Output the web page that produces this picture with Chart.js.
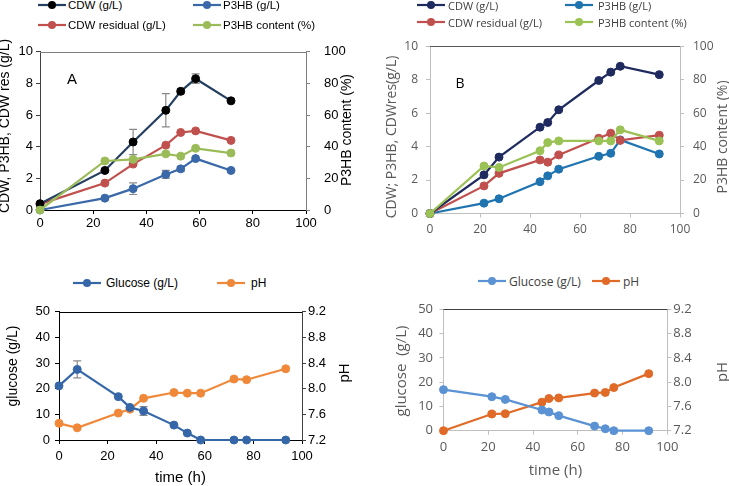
<!DOCTYPE html>
<html><head><meta charset="utf-8">
<script src="https://cdn.jsdelivr.net/npm/chart.js@4.4.0/dist/chart.umd.min.js"></script>
<style>
html,body{margin:0;padding:0;background:#fff;width:729px;height:486px;overflow:hidden;position:relative;}
canvas{position:absolute;}
.leg{position:absolute;white-space:nowrap;}
.lab{position:absolute;white-space:nowrap;}
</style></head><body>
<canvas id="cA"></canvas><canvas id="cB"></canvas><canvas id="cC"></canvas><canvas id="cD"></canvas>
<script>
// ---------- DATA ----------
const xTicks = [0, 20, 40, 60, 80, 100];
// Panel A (top left)
const timeA = [0, 24.4, 35, 47.3, 52.9, 58.5, 71.8];
const cdwA = [0.4, 2.5, 4.3, 6.3, 7.5, 8.3, 6.9];
const cdwErrA = [0, 0, 0.8, 1.05, 0.15, 0.3, 0];
const cdwResA = [0.37, 1.7, 2.9, 4.1, 4.9, 5.0, 4.4];
const p3hbA = [0, 0.75, 1.35, 2.25, 2.6, 3.25, 2.5];
const p3hbErrA = [0, 0, 0.37, 0.25, 0.15, 0, 0];
const contentA = [0, 31, 32, 35.5, 34, 39, 36];
// Panel B (top right)
const timeB = [0, 21.6, 27.6, 44, 47.1, 51.5, 67.5, 72.3, 76.1, 91.7];
const cdwB = [0, 2.31, 3.37, 5.16, 5.44, 6.2, 7.95, 8.45, 8.8, 8.3];
const cdwResB = [0, 1.65, 2.4, 3.2, 3.07, 3.5, 4.5, 4.8, 4.37, 4.68];
const p3hbB = [0, 0.62, 0.88, 1.9, 2.25, 2.65, 3.42, 3.6, 4.4, 3.56];
const contentB = [0, 28.4, 27.5, 37.5, 42.4, 43.4, 43.4, 43.4, 50, 43.4];
// Panel C (bottom left)
const timeC = [0, 7.5, 24.4, 29.2, 34.8, 47.3, 52.8, 58.3, 72, 77.2, 93.3];
const glucoseC = [21.1, 27.5, 16.9, 12.7, 11.3, 5.8, 2.7, 0, 0, 0, 0];
const glucoseErrC = [0, 3.3, 0, 0, 1.7, 0, 0, 0, 0, 0, 0];
const phC = [7.46, 7.39, 7.62, 7.68, 7.85, 7.94, 7.93, 7.93, 8.15, 8.14, 8.31];
// Panel D (bottom right)
const timeD = [0, 21.6, 27.6, 44, 47.1, 51.5, 67.5, 72.3, 76.1, 91.7];
const glucoseD = [16.9, 14, 12.9, 8.5, 7.7, 6.2, 1.9, 0.8, 0, 0];
const phD = [7.2, 7.475, 7.48, 7.67, 7.73, 7.74, 7.82, 7.83, 7.91, 8.14];
// Labels
const namesTop = ['CDW (g/L)', 'P3HB (g/L)', 'CDW residual (g/L)', 'P3HB content (%)'];
const namesBottom = ['Glucose (g/L)', 'pH'];

// ---------- HELPERS ----------
const pts = (xs, ys) => xs.map((x, i) => ({x: x, y: ys[i]}));

const topBorder = {
  id: 'topBorder',
  afterDraw(chart, args, opts) {
    const {ctx, chartArea: a} = chart;
    ctx.save(); ctx.strokeStyle = opts.color; ctx.lineWidth = 1;
    ctx.beginPath(); ctx.moveTo(a.left, Math.round(a.top) + 0.5); ctx.lineTo(a.right, Math.round(a.top) + 0.5); ctx.stroke();
    ctx.restore();
  }
};
// vertical axis titles, both read bottom-to-top as in the reference
const sideTitles = {
  id: 'sideTitles',
  afterDraw(chart, args, opts) {
    const ctx = chart.ctx;
    (opts.items || []).forEach(t => {
      ctx.save();
      ctx.translate(t.x, t.y); ctx.rotate(-Math.PI / 2);
      ctx.font = t.font; ctx.fillStyle = t.color;
      ctx.textAlign = 'center'; ctx.textBaseline = 'middle';
      ctx.fillText(t.text, 0, 0);
      ctx.restore();
    });
  }
};
const errorBars = {
  id: 'errorBars',
  beforeDatasetsDraw(chart) {
    const ctx = chart.ctx;
    chart.data.datasets.forEach((ds) => {
      if (!ds.errors) return;
      const xs = chart.scales.x, ys = chart.scales[ds.yAxisID];
      ctx.save(); ctx.strokeStyle = '#8a8a8a'; ctx.lineWidth = 1.2;
      ds.data.forEach((p, i) => {
        const e = ds.errors[i]; if (!e) return;
        const px = xs.getPixelForValue(p.x), y1 = ys.getPixelForValue(p.y + e), y2 = ys.getPixelForValue(p.y - e);
        ctx.beginPath();
        ctx.moveTo(px, y1); ctx.lineTo(px, y2);
        ctx.moveTo(px - 4, y1); ctx.lineTo(px + 4, y1);
        ctx.moveTo(px - 4, y2); ctx.lineTo(px + 4, y2);
        ctx.stroke();
      });
      ctx.restore();
    });
  }
};

function ds(data, line, fill, axis, errors) {
  return {data: data, borderColor: line, backgroundColor: fill, pointBackgroundColor: fill, pointBorderColor: fill,
    borderWidth: 2.2, pointRadius: 4, pointBorderWidth: 1, yAxisID: axis, clip: false, tension: 0, errors: errors};
}

function axis(o) {
  const s = {
    type: 'linear', position: o.pos, min: o.min, max: o.max,
    ticks: {stepSize: o.step, color: o.tc, font: o.tf, padding: o.tp, callback: o.cb || (v => v)},
    grid: {drawOnChartArea: false, drawTicks: true, tickLength: 4, color: o.lc},
    border: {display: true, color: o.lc, width: 1},
    title: {display: !!o.title, text: o.title, color: o.tc, font: o.titleFont, padding: {top: o.titlePad, bottom: o.titlePad}}
  };
  if (o.size !== undefined) {
    s.afterFit = (sc) => { if (o.pos === 'bottom') sc.height = o.size; else sc.width = o.size; };
  }
  return s;
}

function build(id, box, datasets, scales, topColor, titles) {
  const cv = document.getElementById(id);
  cv.width = box.w; cv.height = box.h;
  cv.style.left = box.left + 'px'; cv.style.top = box.top + 'px';
  cv.style.width = box.w + 'px'; cv.style.height = box.h + 'px';
  return new Chart(cv, {
    type: 'line',
    data: {datasets: datasets},
    options: {
      responsive: false, animation: false, devicePixelRatio: 1,
      layout: {padding: {top: box.padTop, left: 0, right: 0, bottom: 0}},
      plugins: {legend: {display: false}, tooltip: {enabled: false}, topBorder: {color: topColor}, sideTitles: {items: titles}},
      scales: scales
    },
    plugins: [topBorder, errorBars, sideTitles]
  });
}

function legendItem(x, cy, line, marker, text, font, color, gap) {
  const d = document.createElement('div');
  d.className = 'leg';
  d.style.left = x + 'px'; d.style.top = (cy - 8) + 'px'; d.style.height = '16px';
  d.style.display = 'flex'; d.style.alignItems = 'center';
  d.innerHTML = '<svg width="28" height="12" style="display:block"><line x1="0" y1="6" x2="28" y2="6" stroke="' + line +
    '" stroke-width="2.2"/><circle cx="14" cy="6" r="4" fill="' + marker + '"/></svg>' +
    '<span style="margin-left:' + gap + 'px;font:' + font + ';color:' + color + '">' + text + '</span>';
  document.body.appendChild(d);
}
function label(text, cx, cy, font, color) {
  const d = document.createElement('div');
  d.className = 'lab'; d.textContent = text;
  d.style.font = font; d.style.color = color;
  document.body.appendChild(d);
  d.style.left = (cx - d.offsetWidth / 2) + 'px'; d.style.top = (cy - d.offsetHeight / 2) + 'px';
}

const fA = 'Liberation Sans, Arial, sans-serif';
const fB = 'Open Sans, sans-serif';

// ---------- PANEL A ----------
const cA = {navy: '#243f60', black: '#000000', red: '#c0504d', blue: '#3a68a8', green: '#9bbb59'};
build('cA', {left: -10, top: 30, w: 375, h: 210, padTop: 16.7}, [
  ds(pts(timeA, contentA), cA.green, cA.green, 'y2'),
  ds(pts(timeA, cdwA), cA.navy, cA.black, 'y', cdwErrA),
  ds(pts(timeA, cdwResA), cA.red, cA.red, 'y'),
  ds(pts(timeA, p3hbA), cA.blue, cA.blue, 'y', p3hbErrA)
], {
  x: axis({pos: 'bottom', min: 0, max: 100, step: 20, tc: '#000', tf: {family: fA, size: 13}, tp: 2, lc: '#000', size: 30}),
  y: axis({pos: 'left', min: 0, max: 10, step: 2, tc: '#000', tf: {family: fA, size: 13}, tp: 3, lc: '#404040', size: 50}),
  y2: axis({pos: 'right', min: 0, max: 100, step: 20, tc: '#000', tf: {family: fA, size: 13}, tp: 14, lc: '#808080', size: 59})
}, '#808080', [
  {text: 'CDW, P3HB, CDW res (g/L)', x: 15, y: 96, font: '14px ' + fA, color: '#000'},
  {text: 'P3HB content (%)', x: 357, y: 100, font: '14px ' + fA, color: '#000'}
]);

// ---------- PANEL B ----------
const cB = {navy: '#1f2a5f', red: '#c0504d', blue: '#1f74b0', green: '#9bc254'};
build('cB', {left: 365, top: 30, w: 375, h: 210, padTop: 15}, [
  ds(pts(timeB, contentB), cB.green, cB.green, 'y2'),
  ds(pts(timeB, cdwB), cB.navy, cB.navy, 'y'),
  ds(pts(timeB, cdwResB), cB.red, cB.red, 'y'),
  ds(pts(timeB, p3hbB), cB.blue, cB.blue, 'y')
], {
  x: axis({pos: 'bottom', min: 0, max: 100, step: 20, tc: '#595959', tf: {family: fB, size: 12}, tp: 4.5, lc: '#bfbfbf', size: 26.5}),
  y: axis({pos: 'left', min: 0, max: 10, step: 2, tc: '#595959', tf: {family: fB, size: 12}, tp: 8, lc: '#bfbfbf', size: 65}),
  y2: axis({pos: 'right', min: 0, max: 100, step: 20, tc: '#595959', tf: {family: fB, size: 12}, tp: 9, lc: '#bfbfbf', size: 60})
}, '#595959', [
  {text: 'CDW; P3HB, CDWres(g/L)', x: 27, y: 107, font: '14px ' + fB, color: '#595959'},
  {text: 'P3HB content (%)', x: 358, y: 107, font: '14px ' + fB, color: '#595959'}
]);

// ---------- PANEL C ----------
const cC = {blue: '#3566a8', orange: '#f0883a'};
build('cC', {left: -10, top: 295, w: 375, h: 191, padTop: 16.7}, [
  ds(pts(timeC, glucoseC), cC.blue, cC.blue, 'y', glucoseErrC),
  ds(pts(timeC, phC), cC.orange, cC.orange, 'y2')
], {
  x: axis({pos: 'bottom', min: 0, max: 100, step: 20, tc: '#000', tf: {family: fA, size: 13}, tp: 4.9, lc: '#000', size: 46,
    title: 'time (h)', titleFont: {family: fA, size: 15, lineHeight: 1}, titlePad: 0.5}),
  y: axis({pos: 'left', min: 0, max: 50, step: 10, tc: '#000', tf: {family: fA, size: 13}, tp: 5, lc: '#000', size: 69}),
  y2: axis({pos: 'right', min: 7.2, max: 9.2, step: 0.4, tc: '#000', tf: {family: fA, size: 13}, tp: 2, lc: '#404040', size: 63,
    cb: v => v.toFixed(1)})
}, '#000', [
  {text: 'glucose (g/L)', x: 23, y: 71, font: '14px ' + fA, color: '#000'},
  {text: 'pH', x: 355, y: 78, font: '15px ' + fA, color: '#000'}
]);

// ---------- PANEL D ----------
const cD = {blue: '#5b92d3', orange: '#e06a27'};
build('cD', {left: 365, top: 290, w: 375, h: 196, padTop: 19.3}, [
  ds(pts(timeD, glucoseD), cD.blue, cD.blue, 'y'),
  ds(pts(timeD, phD), cD.orange, cD.orange, 'y2')
], {
  x: axis({pos: 'bottom', min: 0, max: 100, step: 20, tc: '#595959', tf: {family: fB, size: 13}, tp: 4.5, lc: '#bfbfbf', size: 55.3,
    title: 'time (h)', titleFont: {family: fB, size: 15, lineHeight: 1}, titlePad: 8}),
  y: axis({pos: 'left', min: 0, max: 50, step: 10, tc: '#595959', tf: {family: fB, size: 13}, tp: 6.5, lc: '#bfbfbf', size: 78.5}),
  y2: axis({pos: 'right', min: 7.2, max: 9.2, step: 0.4, tc: '#595959', tf: {family: fB, size: 13}, tp: 2, lc: '#bfbfbf', size: 72.7,
    cb: v => v.toFixed(1)})
}, '#404040', [
  {text: 'glucose  (g/L)', x: 37, y: 81, font: '15px ' + fB, color: '#595959'},
  {text: 'pH', x: 358, y: 82, font: '15px ' + fB, color: '#595959'}
]);

// ---------- LEGENDS & PANEL LETTERS ----------
const lfA = '11.5px ' + fA, lfB = '11px ' + fB;
legendItem(38, 5, cA.navy, cA.black, namesTop[0], lfA, '#000', 2);
legendItem(193, 5, cA.blue, cA.blue, namesTop[1], lfA, '#000', 2);
legendItem(38, 25, cA.red, cA.red, namesTop[2], lfA, '#000', 2);
legendItem(193, 25, cA.green, cA.green, namesTop[3], lfA, '#000', 2);
legendItem(417, 5, cB.navy, cB.navy, namesTop[0], lfB, '#404040', 3);
legendItem(565, 5, cB.blue, cB.blue, namesTop[1], lfB, '#404040', 5);
legendItem(417, 22, cB.red, cB.red, namesTop[2], lfB, '#404040', 3);
legendItem(565, 22, cB.green, cB.green, namesTop[3], lfB, '#404040', 5);
legendItem(73, 283, cC.blue, cC.blue, namesBottom[0], '12px ' + fA, '#000', 5);
legendItem(217, 283, cC.orange, cC.orange, namesBottom[1], '12px ' + fA, '#000', 6);
legendItem(478, 281, cD.blue, cD.blue, namesBottom[0], '12px ' + fB, '#404040', 3);
legendItem(592, 281, cD.orange, cD.orange, namesBottom[1], '12px ' + fB, '#404040', 3);
label('A', 72, 78, '15px ' + fA, '#000');
label('B', 460, 82, '14px ' + fB, '#000');
</script>
</body></html>
